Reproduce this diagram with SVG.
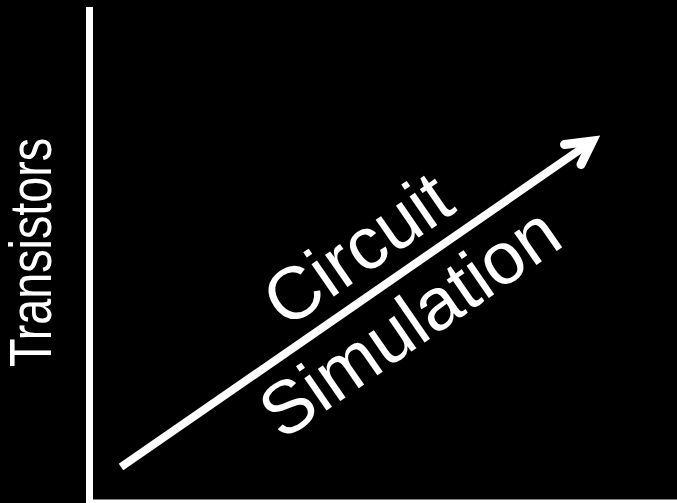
<svg xmlns="http://www.w3.org/2000/svg" width="677" height="503" viewBox="0 0 677 503">
<style>
.lbl{font-family:"Liberation Sans",Arial,sans-serif;fill:#fff}
.ax{stroke:#fff;stroke-width:7;fill:none}
</style>
<rect width="677" height="503" fill="#000"/>
<g id="axes">
<line class="ax" x1="89.5" y1="7" x2="89.5" y2="503"/>
<line class="ax" x1="86" y1="503" x2="677" y2="503"/>
</g>
<g id="y-label">
<text class="lbl" font-size="60" text-anchor="middle" textLength="229" lengthAdjust="spacingAndGlyphs" transform="translate(51,252.5) rotate(-90)">Transistors</text>
</g>
<g id="connectors">
<line x1="121" y1="467" x2="592.5" y2="141" stroke="#fff" stroke-width="8"/>
<polyline points="564.5,144.5 592.5,141 581,164.5" fill="none" stroke="#fff" stroke-width="9" stroke-linecap="round" stroke-linejoin="miter"/>
</g>
<g id="circuit">
<text class="lbl" font-size="74" text-anchor="middle" transform="translate(372,270) rotate(-34.7)">Circuit</text>
</g>
<g id="simulation">
<text class="lbl" font-size="74" text-anchor="middle" transform="translate(424,343) rotate(-34.7)">Simulation</text>
</g>
</svg>
